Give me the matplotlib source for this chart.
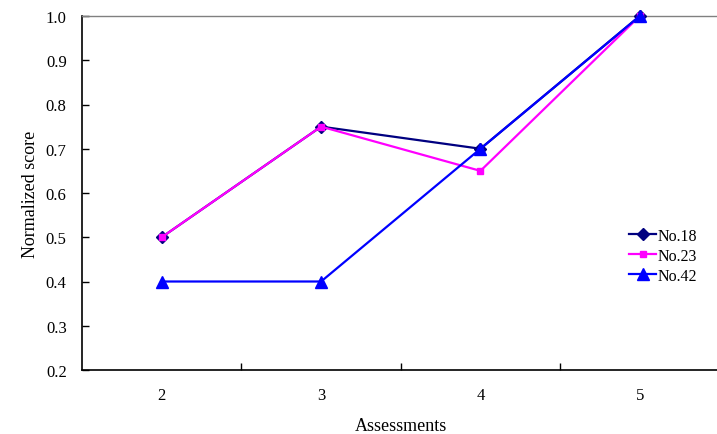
import matplotlib
matplotlib.use("Agg")
import matplotlib.pyplot as plt

assessments = [2, 3, 4, 5]
no18 = [0.5, 0.75, 0.7, 1.0]
no23 = [0.5, 0.75, 0.65, 1.0]
no42 = [0.4, 0.4, 0.7, 1.0]
yticks = [0.2, 0.3, 0.4, 0.5, 0.6, 0.7, 0.8, 0.9, 1.0]

plt.rcParams['font.family'] = ['Liberation Serif', 'DejaVu Serif']

fig = plt.figure(figsize=(7.17, 4.35), dpi=100)
ax = fig.add_axes([82/717, 64/435, 637.5/717, 354/435])

ax.plot(assessments, no18, color='#000080', marker='D', markersize=6, lw=1.6, label='No.18', clip_on=False, zorder=3)
ax.plot(assessments, no23, color='#FF00FF', marker='s', markersize=5, lw=1.6, label='No.23', clip_on=False, zorder=4)
ax.plot(assessments, no42, color='#0000FF', marker='^', markersize=9, lw=1.6, label='No.42', clip_on=False, zorder=5)

ax.set_xlim(1.5, 5.5)
ax.set_ylim(0.2, 1.0)
ax.set_yticks(yticks)
ax.set_yticklabels([f"{v:.1f}" for v in yticks])
ax.set_xticks(assessments)
ax.set_xticks([2.5, 3.5, 4.5], minor=True)
ax.tick_params(axis='x', which='major', length=0, pad=12, labelsize=12)
ax.tick_params(axis='x', which='minor', direction='in', length=5, width=1)
ax.tick_params(axis='y', direction='in', length=5, width=1, pad=11, labelsize=12)

for s in ['left', 'bottom']:
    ax.spines[s].set_color('black')
    ax.spines[s].set_linewidth(1.2)
ax.spines['top'].set_color('#808080')
ax.spines['top'].set_linewidth(1)
ax.spines['right'].set_visible(False)

ax.set_xlabel('Assessments', fontsize=13, labelpad=10)
ax.set_ylabel('Normalized score', fontsize=13, labelpad=5)

leg = ax.legend(loc='upper left', bbox_to_anchor=(539/637.5, (371-221)/354), frameon=False,
                fontsize=11.5, handlelength=1.7, handletextpad=0.1, labelspacing=0.25, borderpad=0)

fig.savefig('out.png', dpi=100)
